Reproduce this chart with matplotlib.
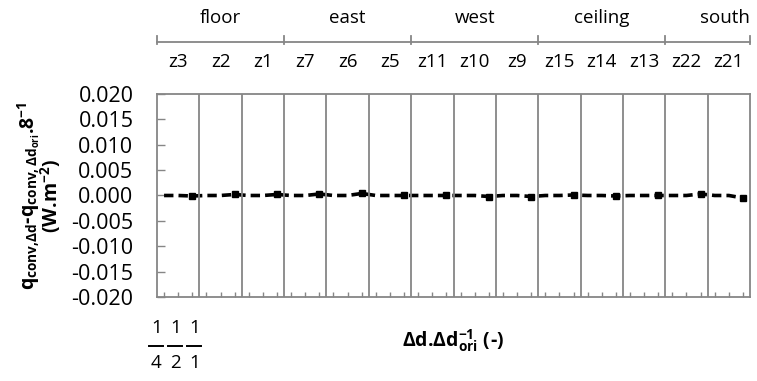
import numpy as np
import matplotlib.pyplot as plt
from matplotlib.transforms import blended_transform_factory

plt.rcParams['font.family'] = ['Open Sans', 'DejaVu Sans']
plt.rcParams['mathtext.fontset'] = 'custom'
plt.rcParams['mathtext.rm'] = 'Open Sans'
plt.rcParams['mathtext.it'] = 'Open Sans'
plt.rcParams['mathtext.bf'] = 'Open Sans:bold'

# walls and zones (3 ratios per zone)
groups = ['floor', 'east', 'west', 'ceiling', 'south']
group_sizes = [3, 3, 3, 3, 2]
zones = ['z3', 'z2', 'z1', 'z7', 'z6', 'z5', 'z11', 'z10', 'z9',
         'z15', 'z14', 'z13', 'z22', 'z21']
ratios = [('1', '4'), ('1', '2'), ('1', '1')]

# q_conv difference per zone, for ratio 1/4, 1/2, 1/1
values = [
    0.0, 0.0, -0.0001,   # z3
    0.0, 0.0, 0.0002,    # z2
    0.0, 0.0, 0.0002,    # z1
    0.0, 0.0, 0.0003,    # z7
    0.0, 0.0, 0.0004,    # z6
    0.0, 0.0, 0.0,       # z5
    0.0, 0.0, 0.0,       # z11
    0.0, 0.0, -0.0002,   # z10
    0.0, 0.0, -0.0002,   # z9
    0.0, 0.0, 0.0001,    # z15
    0.0, 0.0, -0.0001,   # z14
    0.0, 0.0, 0.0,       # z13
    0.0, 0.0, 0.0003,    # z22
    0.0, 0.0, -0.0005,   # z21
]

gray = '#868686'
x = np.arange(len(values))

fig = plt.figure(figsize=(7.57, 3.81), dpi=100)
ax = fig.add_axes([0.2074, 0.2205, 0.7834, 0.5328])

ax.plot(x, values, color='black', lw=2.6, dashes=(2.6, 1.4),
        marker='s', ms=4.8, markevery=slice(2, None, 3))

ax.set_xlim(-0.5, len(values) - 0.5)
ax.set_ylim(-0.020, 0.020)
yt = np.arange(-0.020, 0.0201, 0.005)
ax.set_yticks(yt)
ax.set_yticklabels(['%.3f' % v for v in yt])
ax.set_xticks(x)
ax.set_xticklabels([])
ax.tick_params(axis='y', direction='in', length=6, color=gray, width=1,
               labelsize=15.5, pad=17)
ax.tick_params(axis='x', direction='in', length=3.5, color=gray, width=1)

# zone separators
for k in range(1, len(zones)):
    ax.axvline(3 * k - 0.5, color=gray, lw=1.3)
for s in ax.spines.values():
    s.set_color(gray)
    s.set_linewidth(1.3)

ax.set_ylabel(r'q$_{\mathbf{conv{,}\Delta d}}$-q$_{\mathbf{conv,\Delta d_{ori}}}$.8$^{\mathbf{-1}}$'
              + '\n' + r'(W.m$^{\mathbf{-2}}$)',
              fontsize=14, fontweight='bold', linespacing=0.85)
ax.yaxis.set_label_coords(-0.158, 0.5)
ax.set_xlabel(r'$\mathbf{\Delta}$d.$\mathbf{\Delta}$d$_{\mathbf{ori}}^{\mathbf{-1}}$ (-)',
              fontsize=14, fontweight='bold')
ax.xaxis.set_label_coords(0.5, -0.15)

trans = blended_transform_factory(ax.transData, fig.transFigure)

# zone labels
for k, z in enumerate(zones):
    ax.text(3 * k + 1, 1 - 62 / 381, z, transform=trans, ha='center',
            va='center', fontsize=13.5)

# group labels and bracket
ax.plot([-0.5, len(values) - 0.5], [1 - 42 / 381] * 2, color=gray, lw=1.3,
        transform=trans, clip_on=False)
start = 0
for g, n in zip(groups, group_sizes):
    left = 3 * start - 0.5
    right = 3 * (start + n) - 0.5
    if start == 0:
        ax.plot([left, left], [1 - 36 / 381, 1 - 44 / 381], color=gray,
                lw=1.3, transform=trans, clip_on=False)
    ax.plot([right, right], [1 - 36 / 381, 1 - 44 / 381], color=gray,
            lw=1.3, transform=trans, clip_on=False)
    if g == 'south':
        ax.text(right, 1 - 18 / 381, g, transform=trans, ha='right',
                va='center', fontsize=13.5)
    else:
        ax.text((left + right) / 2, 1 - 18 / 381, g, transform=trans,
                ha='center', va='center', fontsize=13.5)
    start += n

# first ratio labels, drawn as stacked fractions
for i, (num, den) in enumerate(ratios):
    xi = [-0.55, 0.8, 2.15][i]
    ax.text(xi, 1 - 328 / 381, num, transform=trans, ha='center',
            va='center', fontsize=13.5)
    ax.text(xi, 1 - 363 / 381, den, transform=trans, ha='center',
            va='center', fontsize=13.5)
    ax.plot([xi - 0.5, xi + 0.5], [1 - 346 / 381] * 2, color='black',
            lw=1.4, transform=trans, clip_on=False)

fig.savefig('out.png', dpi=100)
